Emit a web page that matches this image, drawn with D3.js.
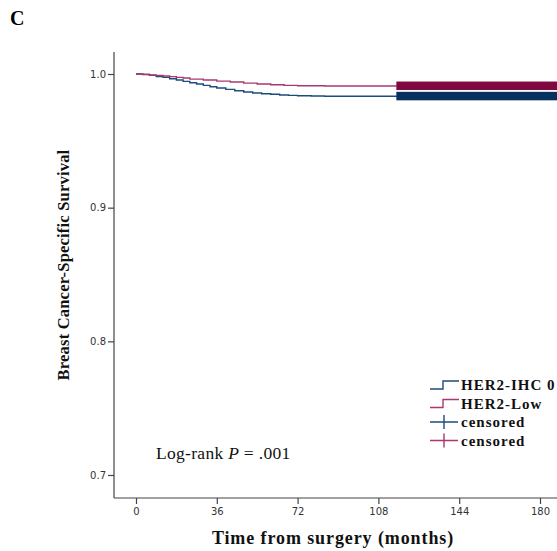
<!DOCTYPE html>
<html>
<head>
<meta charset="utf-8">
<script src="https://cdn.jsdelivr.net/npm/d3@7"></script>
<style>
  body { margin: 0; background: #fff; }
  .tick text { font-family: "DejaVu Sans", sans-serif; font-size: 10px; fill: #333; }
</style>
</head>
<body>
<div id="chart"></div>
<script>
// KM step points (months, survival)
var ihc0Times = [0, 3, 6, 9, 12, 15, 18, 21, 24, 27, 30, 33, 36, 40, 44, 48, 52, 56, 60, 64, 68, 72, 78, 84, 90, 96, 116];
var ihc0Surv  = [1.0, 0.9995, 0.999, 0.998, 0.9975, 0.9965, 0.9955, 0.9945, 0.9935, 0.9925, 0.9915, 0.9905, 0.9895, 0.9885, 0.9875, 0.9865, 0.9858, 0.9852, 0.9848, 0.9843, 0.984, 0.9837, 0.9835, 0.9834, 0.9833, 0.9833, 0.9833];
var lowTimes  = [0, 3, 6, 9, 12, 15, 18, 21, 24, 30, 36, 42, 48, 54, 60, 66, 72, 84, 96, 116];
var lowSurv   = [1.0, 0.9998, 0.9993, 0.999, 0.9985, 0.998, 0.9975, 0.997, 0.9962, 0.9955, 0.9947, 0.994, 0.9932, 0.9925, 0.992, 0.9915, 0.9912, 0.991, 0.991, 0.991];
// dense censoring span (months), drawn as packed tick marks
var ihc0Censor = [116, 192];
var lowCensor  = [116, 192];

var xTicks = [0, 36, 72, 108, 144, 180];
var yTicks = [0.7, 0.8, 0.9, 1.0];
var legendLabels = ["HER2-IHC 0", "HER2-Low", "censored", "censored"];

var width = 557, height = 551;
var blue = "#1d4b7d", pink = "#a8386f";
var blueBand = "#07305f", pinkBand = "#7f0840";

var svg = d3.select("#chart").append("svg")
    .attr("width", width)
    .attr("height", height);

var x = d3.scaleLinear().domain([0, 180]).range([136, 540]);
var y = d3.scaleLinear().domain([0.7, 1.0]).range([475, 74]);

// axes
var axisLeftX = 114, axisBottomY = 498;
svg.append("line")
  .attr("x1", axisLeftX).attr("x2", axisLeftX)
  .attr("y1", 52).attr("y2", axisBottomY)
  .attr("stroke", "#444").attr("stroke-width", 1.2);
svg.append("line")
  .attr("x1", axisLeftX).attr("x2", width)
  .attr("y1", axisBottomY).attr("y2", axisBottomY)
  .attr("stroke", "#444").attr("stroke-width", 1.2);

var yAxis = svg.append("g")
  .attr("transform", "translate(" + axisLeftX + ",0)")
  .call(d3.axisLeft(y).tickValues(yTicks).tickFormat(d3.format(".1f")).tickSize(6).tickPadding(2));
yAxis.select(".domain").remove();
yAxis.selectAll(".tick line").attr("stroke", "#444").attr("stroke-width", 1.2);

var xAxis = svg.append("g")
  .attr("transform", "translate(0," + axisBottomY + ")")
  .call(d3.axisBottom(x).tickValues(xTicks).tickSize(6).tickPadding(4));
xAxis.select(".domain").remove();
xAxis.selectAll(".tick line").attr("stroke", "#444").attr("stroke-width", 1.2);

// survival curves
var line = d3.line().curve(d3.curveStepAfter)
  .x(function(d){ return x(d[0]); })
  .y(function(d){ return y(d[1]); });

function drawCurve(times, surv, censor, col, band) {
  var pts = times.map(function(t, i){ return [t, surv[i]]; });
  pts.push([censor[1], surv[surv.length - 1]]);
  svg.append("path")
    .datum(pts)
    .attr("d", line)
    .attr("fill", "none")
    .attr("stroke", col)
    .attr("stroke-width", 1.4);
  var s = surv[surv.length - 1];
  svg.append("rect")
    .attr("x", x(censor[0]))
    .attr("width", x(censor[1]) - x(censor[0]))
    .attr("y", y(s) - 4.5)
    .attr("height", 8.5)
    .attr("fill", band);
}
drawCurve(ihc0Times, ihc0Surv, ihc0Censor, blue, blueBand);
drawCurve(lowTimes, lowSurv, lowCensor, pink, pinkBand);

// legend
var legCols = [blue, pink, blue, pink];
var legend = svg.append("g").attr("transform", "translate(430,385)");
legendLabels.forEach(function(lab, i) {
  var g = legend.append("g").attr("transform", "translate(0," + (i * 18.5) + ")");
  if (i < 2) {
    g.append("path")
      .attr("d", "M0,4H13V-4H29")
      .attr("fill", "none").attr("stroke", legCols[i]).attr("stroke-width", 1.4);
  } else {
    g.append("path")
      .attr("d", "M0,0H28M14,-7V7")
      .attr("fill", "none").attr("stroke", legCols[i]).attr("stroke-width", 1.4);
  }
  g.append("text")
    .attr("x", 31).attr("y", 5)
    .attr("font-family", "'Liberation Serif', serif")
    .attr("font-weight", "bold")
    .attr("font-size", "15px")
    .attr("letter-spacing", "1px")
    .attr("fill", "#111")
    .text(lab);
});

// annotation
var ann = svg.append("text")
  .attr("x", 156).attr("y", 459)
  .attr("font-family", "'Liberation Serif', serif")
  .attr("font-size", "17.5px")
  .attr("letter-spacing", "0.3px")
  .attr("fill", "#111");
ann.append("tspan").text("Log-rank ");
ann.append("tspan").attr("font-style", "italic").text("P");
ann.append("tspan").text(" = .001");

// titles
svg.append("text")
  .attr("x", 333).attr("y", 544)
  .attr("text-anchor", "middle")
  .attr("font-family", "'Liberation Serif', serif")
  .attr("font-weight", "bold")
  .attr("font-size", "18px")
  .attr("letter-spacing", "0.9px")
  .attr("fill", "#111")
  .text("Time from surgery (months)");

svg.append("text")
  .attr("transform", "translate(69,265) rotate(-90)")
  .attr("text-anchor", "middle")
  .attr("font-family", "'Liberation Serif', serif")
  .attr("font-weight", "bold")
  .attr("font-size", "16.5px")
  .attr("letter-spacing", "0.2px")
  .attr("fill", "#111")
  .text("Breast Cancer-Specific Survival");

svg.append("text")
  .attr("x", 10).attr("y", 25)
  .attr("font-family", "'Liberation Serif', serif")
  .attr("font-weight", "bold")
  .attr("font-size", "20px")
  .attr("fill", "#000")
  .text("C");
</script>
</body>
</html>
